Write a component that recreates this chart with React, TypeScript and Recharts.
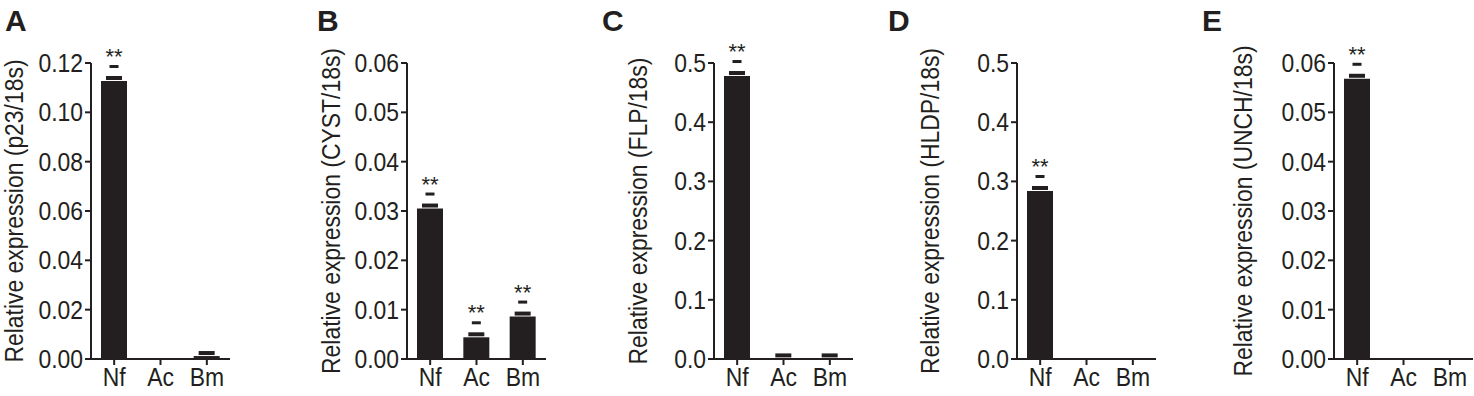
import { Bar, BarChart, LabelList, XAxis, YAxis } from "recharts";

const CATEGORIES = ["Nf", "Ac", "Bm"];

// Relative expression per gene (Nf, Ac, Bm)
const P23 = [0.1127, 0, 0.0012];
const CYST = [0.0305, 0.0044, 0.0086];
const FLP = [0.478, 0.001, 0.001];
const HLDP = [0.2838, 0, 0];
const UNCH = [0.0568, 0, 0];

// ** markers
const SIG_P23 = [true, false, false];
const SIG_CYST = [true, true, true];
const SIG_FLP = [true, false, false];
const SIG_HLDP = [true, false, false];
const SIG_UNCH = [true, false, false];

const TICKS_P23 = [0, 0.02, 0.04, 0.06, 0.08, 0.1, 0.12];
const TICKS_SMALL = [0, 0.01, 0.02, 0.03, 0.04, 0.05, 0.06];
const TICKS_HALF = [0, 0.1, 0.2, 0.3, 0.4, 0.5];

const INK = "#231f20";
const FONT = '"Liberation Sans", Arial, sans-serif';
// the original face is a narrow sans; squeeze Liberation a bit
const SQUEEZE = 0.917;
const FS = 25;

type Panel = {
  letter: string;
  title: string;
  values: number[];
  sig: boolean[];
  ticks: number[];
  decimals: number;
  left: number;
  axisX: number;
  titleX: number; // baseline of the rotated title
  letterX: number;
};

const PANELS: Panel[] = [
  { letter: "A", title: "Relative expression (p23/18s)", values: P23, sig: SIG_P23, ticks: TICKS_P23, decimals: 2, left: 0, axisX: 91, titleX: 23, letterX: 5 },
  { letter: "B", title: "Relative expression (CYST/18s)", values: CYST, sig: SIG_CYST, ticks: TICKS_SMALL, decimals: 2, left: 290, axisX: 407, titleX: 340, letterX: 317 },
  { letter: "C", title: "Relative expression (FLP/18s)", values: FLP, sig: SIG_FLP, ticks: TICKS_HALF, decimals: 1, left: 590, axisX: 714, titleX: 647, letterX: 602 },
  { letter: "D", title: "Relative expression (HLDP/18s)", values: HLDP, sig: SIG_HLDP, ticks: TICKS_HALF, decimals: 1, left: 880, axisX: 1017, titleX: 939, letterX: 888 },
  { letter: "E", title: "Relative expression (UNCH/18s)", values: UNCH, sig: SIG_UNCH, ticks: TICKS_SMALL, decimals: 2, left: 1170, axisX: 1334, titleX: 1252, letterX: 1202 },
];

const PLOT_W = 139;
const PLOT_TOP = 63;
const PLOT_BOTTOM = 359;
const H = 396;

// cap just above the bar, plus dash and ** when significant
function renderMark(props: any) {
  const { x, y, width, value } = props;
  if (!value) return null;
  const cx = Number(x) + Number(width) / 2;
  const top = Number(y);
  return (
    <g>
      <rect x={cx - 8} y={top - 5} width={16} height={4} fill={INK} />
      {value === 2 && (
        <>
          <rect x={cx - 4.5} y={top - 16} width={9} height={3} fill={INK} />
          <text x={cx} y={top - 17} textAnchor="middle" fontSize={22} fill={INK} fontFamily={FONT}>
            **
          </text>
        </>
      )}
    </g>
  );
}

function YTick({ x, y, payload, decimals }: any) {
  return (
    <g transform={`translate(${x},${y})`}>
      <text
        transform={`scale(${SQUEEZE},1)`}
        textAnchor="end"
        dy="0.36em"
        fontSize={FS}
        fill={INK}
        fontFamily={FONT}
      >
        {Number(payload.value).toFixed(decimals)}
      </text>
    </g>
  );
}

function XTick({ x, y, payload }: any) {
  return (
    <g transform={`translate(${x},${y})`}>
      <text
        transform={`scale(${SQUEEZE},1)`}
        textAnchor="middle"
        dy="0.72em"
        fontSize={FS}
        fill={INK}
        fontFamily={FONT}
      >
        {payload.value}
      </text>
    </g>
  );
}

function YTitle({ tx, ty, text }: any) {
  return (
    <g transform={`translate(${tx},${ty}) rotate(-90) scale(${SQUEEZE},1)`}>
      <text textAnchor="middle" fontSize={FS} fill={INK} fontFamily={FONT}>
        {text}
      </text>
    </g>
  );
}

function PanelChart({ p }: { p: Panel }) {
  const data = CATEGORIES.map((name, i) => ({
    name,
    value: p.values[i],
    mark: p.values[i] > 0 ? (p.sig[i] ? 2 : 1) : 0,
  }));
  const yw = p.axisX - p.left;
  const max = p.ticks[p.ticks.length - 1];
  return (
    <div style={{ position: "absolute", left: p.left, top: 0 }}>
      <BarChart
        width={yw + PLOT_W}
        height={H}
        data={data}
        margin={{ top: PLOT_TOP, right: 0, bottom: 0, left: 0 }}
        barCategoryGap={0}
      >
        <XAxis
          dataKey="name"
          height={H - PLOT_BOTTOM}
          tickSize={6}
          tickMargin={3}
          tick={<XTick />}
          tickLine={{ stroke: INK, strokeWidth: 2 }}
          axisLine={{ stroke: INK, strokeWidth: 2 }}
          interval={0}
        />
        <YAxis
          width={yw}
          domain={[0, max]}
          ticks={p.ticks}
          interval={0}
          tickSize={6}
          tickMargin={2}
          tick={<YTick decimals={p.decimals} />}
          tickLine={{ stroke: INK, strokeWidth: 2 }}
          axisLine={{ stroke: INK, strokeWidth: 2 }}
          label={
            <YTitle
              tx={p.titleX - p.left}
              ty={(PLOT_TOP + PLOT_BOTTOM) / 2}
              text={p.title}
            />
          }
        />
        <Bar dataKey="value" fill={INK} barSize={26} isAnimationActive={false}>
          <LabelList dataKey="mark" content={renderMark} />
        </Bar>
      </BarChart>
    </div>
  );
}

export default function App() {
  return (
    <div
      style={{
        position: "absolute",
        left: 0,
        top: 0,
        width: 1474,
        height: H,
        background: "#fff",
        fontFamily: FONT,
        overflow: "hidden",
      }}
    >
      {PANELS.map((p) => (
        <PanelChart key={p.letter} p={p} />
      ))}
      {PANELS.map((p) => (
        <div
          key={"l" + p.letter}
          style={{
            position: "absolute",
            left: p.letterX,
            top: 6,
            fontSize: 30,
            fontWeight: 700,
            lineHeight: 1,
            color: INK,
          }}
        >
          {p.letter}
        </div>
      ))}
    </div>
  );
}
